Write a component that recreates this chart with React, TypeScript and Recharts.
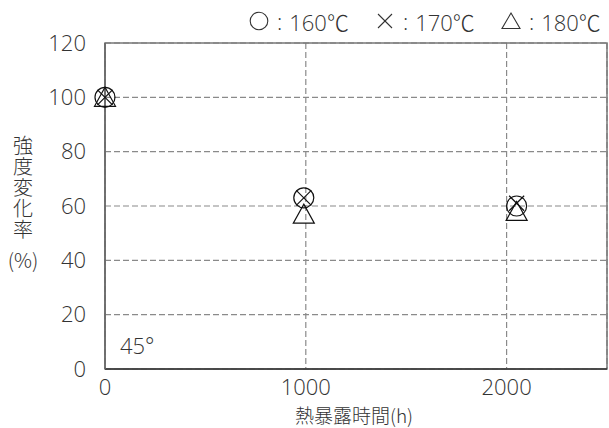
import React from "react";
import {
  ScatterChart,
  Scatter,
  XAxis,
  YAxis,
  CartesianGrid,
  Legend,
  ReferenceArea,
} from "recharts";

const xTicks = [0, 1000, 2000];
const yTicks = [0, 20, 40, 60, 80, 100, 120];

const temp160 = [
  { h: 0, v: 100 },
  { h: 990, v: 63 },
  { h: 2050, v: 60 },
];
const temp170 = [
  { h: 0, v: 100 },
  { h: 990, v: 63 },
  { h: 2050, v: 61 },
];
const temp180 = [
  { h: 0, v: 100 },
  { h: 990, v: 57 },
  { h: 2050, v: 58 },
];

const legendItems = [
  { kind: "circle", label: "160℃" },
  { kind: "cross", label: "170℃" },
  { kind: "triangle", label: "180℃" },
];

const yLabel = "強度変化率";
const yUnit = "(%)";
const xLabel = "熱暴露時間(h)";
const note = "45°";

const CJK = "'Noto Sans CJK JP', sans-serif";
const NUM = "'Open Sans', 'Noto Sans CJK JP', sans-serif";
const TEXT = "#333";

const Circle = (props: any) => (
  <circle cx={props.cx} cy={props.cy} r={10} fill="none" stroke="#111" strokeWidth={1.2} />
);
const Cross = (props: any) => {
  const { cx, cy } = props;
  const d = 7.5;
  return (
    <g stroke="#111" strokeWidth={1.2}>
      <line x1={cx - d} y1={cy - d} x2={cx + d} y2={cy + d} />
      <line x1={cx + d} y1={cy - d} x2={cx - d} y2={cy + d} />
    </g>
  );
};
const Triangle = (props: any) => {
  const { cx, cy } = props;
  return (
    <path
      d={`M${cx},${cy - 10}L${cx + 10.5},${cy + 9}L${cx - 10.5},${cy + 9}Z`}
      fill="none"
      stroke="#111"
      strokeWidth={1.2}
    />
  );
};

function LegendIcon({ kind }: { kind: string }) {
  return (
    <svg width={20} height={20} style={{ display: "block" }}>
      {kind === "circle" && <circle cx={10} cy={10} r={8.8} fill="none" stroke="#333" strokeWidth={1.1} />}
      {kind === "cross" && (
        <g stroke="#333" strokeWidth={1.1}>
          <line x1={3} y1={3} x2={17} y2={17} />
          <line x1={17} y1={3} x2={3} y2={17} />
        </g>
      )}
      {kind === "triangle" && (
        <path d="M10,2L19,17.5L1,17.5Z" fill="none" stroke="#333" strokeWidth={1.1} />
      )}
    </svg>
  );
}

function renderLegend() {
  return (
    <div style={{ display: "flex", fontFamily: NUM, fontSize: 22, fontWeight: 300, color: TEXT, whiteSpace: "nowrap" }}>
      {legendItems.map((it, i) => (
        <span key={it.kind} style={{ display: "flex", alignItems: "center", marginLeft: i === 0 ? 0 : 26 }}>
          <LegendIcon kind={it.kind} />
          <span style={{ margin: "0 7px 0 8px" }}>:</span>
          <span>{it.label}</span>
        </span>
      ))}
    </div>
  );
}

function YLabel(props: any) {
  const { viewBox } = props;
  const cx = 23;
  const top = viewBox.y + 92;
  return (
    <g fontFamily={CJK} fontSize={20} fontWeight={300} fill={TEXT}>
      <text x={cx} y={top} style={{ writingMode: "vertical-rl", letterSpacing: 1 }} textAnchor="start">
        {yLabel}
      </text>
      <text x={cx} y={top + 124} textAnchor="middle" dominantBaseline="central">
        {yUnit}
      </text>
    </g>
  );
}

function XLabel(props: any) {
  const { viewBox } = props;
  return (
    <text
      x={viewBox.x + viewBox.width / 2 - 2}
      y={viewBox.y + 45}
      textAnchor="middle"
      dominantBaseline="central"
      fontFamily={CJK}
      fontSize={19}
      fontWeight={300}
      fill={TEXT}
    >
      {xLabel}
    </text>
  );
}

export default function App() {
  const tickStyle = { fill: TEXT, fontSize: 22, fontFamily: NUM, fontWeight: 300 };
  return (
    <div style={{ position: "absolute", left: 0, top: 0, width: 609, height: 428, background: "#fff" }}>
      <ScatterChart width={609} height={428} margin={{ top: 43, right: 2, bottom: 0, left: 0 }}>
        <CartesianGrid stroke="#8a8a8a" strokeDasharray="6 3" strokeWidth={1.2} />
        <ReferenceArea
          x1={0}
          x2={2500}
          y1={0}
          y2={120}
          fill="none"
          stroke="#777"
          strokeWidth={1.5}
          label={{ value: note, position: "insideBottomLeft", offset: 15, fill: TEXT, fontSize: 22, fontFamily: NUM, fontWeight: 300 }}
        />
        <XAxis
          type="number"
          dataKey="h"
          domain={[0, 2500]}
          ticks={xTicks}
          height={59}
          tickLine={false}
          tickMargin={4}
          axisLine={{ stroke: "#333", strokeWidth: 1.5 }}
          tick={tickStyle}
          label={<XLabel />}
        />
        <YAxis
          type="number"
          dataKey="v"
          domain={[0, 120]}
          ticks={yTicks}
          width={105}
          tickLine={false}
          tickMargin={13}
          axisLine={{ stroke: "#666", strokeWidth: 1.5 }}
          tick={tickStyle}
          label={<YLabel />}
        />
        <Legend
          layout="vertical"
          align="center"
          verticalAlign="middle"
          wrapperStyle={{ top: 5, left: 249, width: 370 }}
          content={renderLegend}
        />
        <Scatter name="160℃" data={temp160} shape={Circle} isAnimationActive={false} />
        <Scatter name="170℃" data={temp170} shape={Cross} isAnimationActive={false} />
        <Scatter name="180℃" data={temp180} shape={Triangle} isAnimationActive={false} />
      </ScatterChart>
    </div>
  );
}
